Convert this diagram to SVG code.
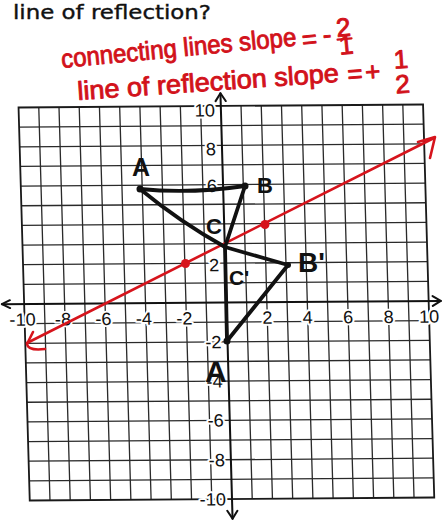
<svg xmlns="http://www.w3.org/2000/svg" width="442" height="524" viewBox="0 0 442 524">
<style>
.grid{stroke:#2a2a2a;stroke-width:1.3;fill:none}
.frame{stroke:#1a1a1a;stroke-width:1.8;fill:none}
.axis{stroke:#111;stroke-width:2;fill:none;stroke-linecap:round;stroke-linejoin:round}
.lbl{font-family:"Liberation Sans",Arial,sans-serif;font-size:18px;fill:#111;stroke:#fff;stroke-width:4;paint-order:stroke;stroke-linejoin:round}
.ink{stroke:#111;stroke-width:3.8;fill:none;stroke-linecap:round;stroke-linejoin:round}
.redl{stroke:#d6141c;stroke-width:2.6;fill:none;stroke-linecap:round;stroke-linejoin:round}
.hand{font-family:"Liberation Sans",Arial,sans-serif;font-size:26px;fill:#d2121b;stroke:#d2121b;stroke-width:0.9;stroke-linejoin:round}
.pt{font-family:"Liberation Sans",Arial,sans-serif;font-weight:bold;fill:#111}
</style>
<rect width="442" height="524" fill="#fff"/>
<text id="question" x="13" y="19" font-family="'DejaVu Sans',sans-serif" font-size="20" fill="#111" stroke="#111" stroke-width="0.4" textLength="198" lengthAdjust="spacingAndGlyphs">line of reflection?</text>
<g id="notes">
<g transform="translate(62,68) rotate(-5.5)">
<text class="hand" x="0" y="0" textLength="236" lengthAdjust="spacingAndGlyphs">connecting lines slope</text>
<text class="hand" x="249" y="4" text-anchor="middle">=</text>
<text class="hand" x="267" y="1" text-anchor="middle">-</text>
<text class="hand" x="284" y="-4.5" text-anchor="middle" font-size="18">2</text>
<line x1="277" y1="-1.8" x2="291" y2="-1.8" stroke="#d2121b" stroke-width="2.2" stroke-linecap="round"/>
<text class="hand" x="285" y="13.5" text-anchor="middle" font-size="17">1</text>
</g>
<g transform="translate(78,100) rotate(-4)">
<text class="hand" x="0" y="0" textLength="262" lengthAdjust="spacingAndGlyphs">line of reflection slope</text>
<text class="hand" x="278" y="2" text-anchor="middle">=</text>
<text class="hand" x="296" y="1" text-anchor="middle">+</text>
<text class="hand" x="325" y="-9" text-anchor="middle" font-size="20">1</text>
<text class="hand" x="325" y="15.7" text-anchor="middle" font-size="20">2</text>
</g>
</g>
<g id="plane" transform="matrix(1.01125 -0.0075 0.028 0.9825 226.4 302.5)">
<g id="grid">
<path class="grid" d="M-180 -200V200M-160 -200V200M-140 -200V200M-120 -200V200M-100 -200V200M-80 -200V200M-60 -200V200M-40 -200V200M-20 -200V200M20 -200V200M40 -200V200M60 -200V200M80 -200V200M100 -200V200M120 -200V200M140 -200V200M160 -200V200M180 -200V200"/>
<path class="grid" d="M-200 -180H200M-200 -160H200M-200 -140H200M-200 -120H200M-200 -100H200M-200 -80H200M-200 -60H200M-200 -40H200M-200 -20H200M-200 20H200M-200 40H200M-200 60H200M-200 80H200M-200 100H200M-200 120H200M-200 140H200M-200 160H200M-200 180H200"/>
<rect class="frame" x="-200" y="-200" width="400" height="400"/>
</g>
<g id="axes">
<path class="axis" d="M0 -213V220M-222 0H212"/>
<path class="axis" d="M-5 -205L0 -213L5 -205M-5 212L0 220L5 212M-214 -4L-222 0L-214 4M204 -5L212 0L204 5"/>
</g>
<g id="labels">
<text class="lbl" x="-6" y="-189.5" text-anchor="end">10</text>
<text class="lbl" x="-6" y="-150" text-anchor="end">8</text>
<text class="lbl" x="-6" y="-112.5" text-anchor="end">6</text>
<text class="lbl" x="-6" y="-32" text-anchor="end">2</text>
<text class="lbl" x="-6" y="46.5" text-anchor="end">-2</text>
<text class="lbl" x="-6" y="86.5" text-anchor="end">-4</text>
<text class="lbl" x="-6" y="126" text-anchor="end">-6</text>
<text class="lbl" x="-6" y="166.5" text-anchor="end">-8</text>
<text class="lbl" x="-6" y="206.5" text-anchor="end">-10</text>
<text class="lbl" x="-189" y="22" text-anchor="end">-10</text>
<text class="lbl" x="-154" y="22" text-anchor="end">-8</text>
<text class="lbl" x="-114" y="22" text-anchor="end">-6</text>
<text class="lbl" x="-74" y="22" text-anchor="end">-4</text>
<text class="lbl" x="-34" y="22" text-anchor="end">-2</text>
<text class="lbl" x="45" y="22" text-anchor="end">2</text>
<text class="lbl" x="85" y="22" text-anchor="end">4</text>
<text class="lbl" x="125" y="22" text-anchor="end">6</text>
<text class="lbl" x="165" y="22" text-anchor="end">8</text>
<text class="lbl" x="210" y="22" text-anchor="end">10</text>
</g>
</g>
<g id="reflection-line">
<path class="redl" d="M27 343L434 138"/>
<path class="redl" d="M418 142L435 137L430 158"/>
<path class="redl" d="M33 332L27 344Q28 351 45 349"/>
<circle cx="185.5" cy="263.5" r="4.5" fill="#d6141c"/>
<circle cx="265" cy="224.5" r="4.5" fill="#d6141c"/>
</g>
<g id="triangle-ABC">
<path class="ink" d="M140 189Q190 194 245 186"/>
<path class="ink" d="M245 186L225 247"/>
<path class="ink" d="M140 189Q180 222 225 247"/>
<circle cx="140" cy="189" r="3.5" fill="#111"/>
<circle cx="245" cy="186" r="3.5" fill="#111"/>
</g>
<g id="triangle-A1B1C1">
<path class="ink" d="M225 247L288 265"/>
<path class="ink" d="M288 265L227 341"/>
<path class="ink" d="M227 341L225 247"/>
<circle cx="227" cy="341" r="3.5" fill="#111"/>
<circle cx="288" cy="265" r="3" fill="#111"/>
</g>
<g id="point-labels">
<text class="pt" x="132" y="176" font-size="25">A</text>
<text class="pt" x="257" y="193" font-size="22">B</text>
<text class="pt" x="206" y="234" font-size="22">C</text>
<text class="pt" x="298" y="272" font-size="28">B'</text>
<text class="pt" x="229" y="285" font-size="21">C'</text>
<text class="pt" x="205" y="382" font-size="30">A</text>
</g>
</svg>
